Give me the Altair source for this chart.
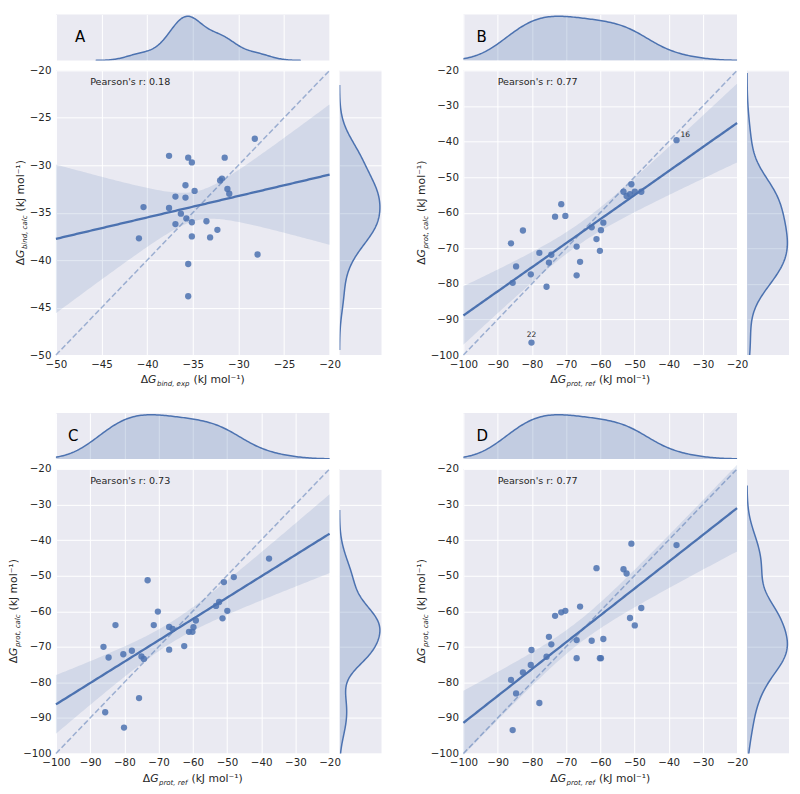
import numpy as np
import pandas as pd
import altair as alt

BLUE = "#4C72B0"
BG = "#EAEAF2"
INK = "#262626"
FONT = "DejaVu Sans"

# ---------------- data ----------------
# Panel A: dG_bind,exp vs dG_bind,calc
a_exp = [-28.2, -37.6, -35.5, -35.1, -31.5, -35.8, -32.0, -31.8, -34.8, -36.9, -35.8,
         -31.2, -31.0, -40.4, -37.6, -36.3, -35.7, -35.1, -36.9, -33.5, -32.3, -40.9,
         -35.1, -33.1, -27.9, -35.5, -35.5]
a_calc = [-27.2, -29.0, -29.2, -29.7, -29.2, -32.1, -31.6, -31.4, -32.7, -33.3, -33.4,
          -32.5, -33.0, -34.4, -34.5, -35.1, -35.6, -36.0, -36.2, -35.9, -36.8, -37.7,
          -37.5, -37.6, -39.4, -40.4, -43.8]

# Panels B, C, D share the reference values
prot_ref = [-86.1, -85.6, -84.6, -82.6, -80.3, -80.1, -77.8, -75.7, -75.0, -74.3, -73.2,
            -71.4, -70.2, -66.9, -66.9, -65.9, -62.5, -61.1, -60.1, -59.8, -59.1, -53.2,
            -52.3, -51.3, -50.9, -49.9, -48.0, -37.7]
b_calc = [-68.6, -79.7, -75.1, -65.0, -77.3, -96.5, -71.3, -80.8, -74.0, -71.8, -61.1,
          -57.6, -60.9, -69.5, -77.6, -73.8, -64.1, -67.4, -70.7, -64.9, -62.8, -54.1,
          -55.3, -54.8, -52.0, -54.1, -54.1, -39.6]
c_calc = [-70.0, -88.4, -73.0, -63.9, -72.1, -92.7, -71.1, -84.4, -72.7, -73.4, -51.3,
          -63.9, -60.1, -64.4, -70.8, -65.0, -69.8, -65.8, -65.8, -64.5, -62.6, -58.5,
          -57.4, -62.0, -51.8, -59.9, -50.4, -45.2]
d_calc = [-79.3, -93.4, -83.1, -77.2, -75.1, -70.9, -85.8, -72.8, -67.2, -69.3, -61.3,
          -60.3, -59.9, -68.1, -73.2, -58.7, -68.3, -47.9, -73.2, -73.2, -67.8, -48.2,
          -49.4, -61.9, -41.0, -64.0, -59.1, -41.4]

# labelled points in panel B
b_note_text = ["16", "22"]
b_note_x = [-37.7, -80.1]
b_note_y = [-39.6, -96.5]

pearson_labels = ["Pearson's r: 0.18", "Pearson's r: 0.77", "Pearson's r: 0.73", "Pearson's r: 0.77"]
letters = ["A", "B", "C", "D"]
ticks_a = [-50, -45, -40, -35, -30, -25, -20]
ticks_p = [-100, -90, -80, -70, -60, -50, -40, -30, -20]
dom_a = [-50, -20]
dom_p = [-100, -20]

# ---------------- layout ----------------
W, H, TH, RW, GAP = 274, 285, 46, 42, 10
SPX, SPY = 62, 38

EM = {"Δ": 0.684, "G": 0.776, " ": 0.318, "(": 0.390, ")": 0.390, "k": 0.579, "J": 0.295,
      "m": 0.974, "o": 0.612, "l": 0.278, "⁻": 0.52, "¹": 0.401, "b": 0.635, "i": 0.278,
      "n": 0.634, "d": 0.635, ",": 0.318, "e": 0.615, "x": 0.592, "p": 0.635, "c": 0.550,
      "a": 0.613, "r": 0.411, "t": 0.392, "f": 0.352}


def tw(s, size):
    return sum(EM.get(ch, 0.6) for ch in s) * size


DUMMY = pd.DataFrame({"d": [0]})
PANEL_VIEW = alt.ViewBackground(fill=BG, strokeWidth=0)


def title_layers(sub, orient, base):
    # (text, size, style, baseline shift, gap after)
    pieces = [("Δ", 10.8, "normal", 0, 0.0), ("G", 10.8, "italic", 0, 0.5),
              (sub, 7.0, "italic", 3, 4.0), ("(kJ mol⁻¹)", 10.8, "normal", 0, 0.0)]
    total = sum(tw(t, s) + g for t, s, _, _, g in pieces)
    layers = []
    pos = W / 2 - total / 2 if orient == "x" else H / 2 + total / 2
    for t, s, st, sh, g in pieces:
        if orient == "x":
            enc = dict(x=alt.value(pos), y=alt.value(base + sh), text=alt.value(t))
            ang = 0
            pos += tw(t, s) + g
        else:
            enc = dict(x=alt.value(base + sh), y=alt.value(pos), text=alt.value(t))
            ang = 270
            pos -= tw(t, s) + g
        layers.append(alt.Chart(DUMMY).mark_text(font=FONT, fontSize=s, fontStyle=st, color=INK,
                                                 align="left", baseline="alphabetic",
                                                 angle=ang).encode(**enc))
    return layers


def kde_bw(v):
    v = np.asarray(v, dtype=float)
    sd = v.std(ddof=1)
    q75, q25 = np.percentile(v, [75, 25])
    a = min(sd, (q75 - q25) / 1.349)
    return 1.059 * a * len(v) ** -0.2


def fit_band(x, y, dom, n=120):
    x = np.asarray(x, dtype=float)
    y = np.asarray(y, dtype=float)
    b, a = np.polyfit(x, y, 1)
    grid = np.linspace(dom[0], dom[1], n)
    fit = a + b * grid
    res = y - (a + b * x)
    s = np.sqrt((res ** 2).sum() / (len(x) - 2))
    sxx = ((x - x.mean()) ** 2).sum()
    half = 2.06 * s * np.sqrt(1 / len(x) + (grid - x.mean()) ** 2 / sxx)
    return pd.DataFrame({"x": grid, "y": fit, "lo": fit - half, "hi": fit + half})


def main_chart(x, y, dom, ticks, rtext, xsub, ysub, ybase, notes=None):
    xs = alt.Scale(domain=dom, nice=False, zero=False)
    ys = alt.Scale(domain=dom, nice=False, zero=False)
    xax = alt.Axis(values=ticks, title=None, labelPadding=4, labelOverlap=False, labelFlush=False)
    yax = alt.Axis(values=ticks, title=None, labelPadding=5, labelOverlap=False, labelFlush=False)
    X = alt.X("x:Q", scale=xs, axis=xax)
    band_df = fit_band(x, y, dom)
    band = alt.Chart(band_df).mark_area(color=BLUE, opacity=0.15).encode(
        x=X, y=alt.Y("lo:Q", scale=ys, axis=yax), y2="hi:Q")
    ident = alt.Chart(pd.DataFrame({"x": dom, "y": dom})).mark_line(
        color=BLUE, opacity=0.5, strokeWidth=1.5, strokeDash=[5.5, 2.6]).encode(
        x=X, y=alt.Y("y:Q", scale=ys, axis=yax))
    reg = alt.Chart(band_df).mark_line(color=BLUE, strokeWidth=2.3).encode(
        x=X, y=alt.Y("y:Q", scale=ys, axis=yax))
    pts = alt.Chart(pd.DataFrame({"x": x, "y": y})).mark_circle(
        size=40, color=BLUE, opacity=0.85).encode(x=X, y=alt.Y("y:Q", scale=ys, axis=yax))
    txt = alt.Chart(DUMMY).mark_text(font=FONT, fontSize=9.6, color=INK, align="left",
                                      baseline="middle").encode(
        x=alt.value(W * 0.125), y=alt.value(12), text=alt.value(rtext))
    layers = [band, ident, reg, pts, txt]
    if notes is not None:
        ndf = pd.DataFrame({"x": notes[1], "y": notes[2], "t": notes[0]})
        layers.append(alt.Chart(ndf.iloc[[0]]).mark_text(
            font=FONT, fontSize=7.5, color=INK, align="left", baseline="middle", dx=4, dy=-5).encode(
            x=X, y=alt.Y("y:Q", scale=ys, axis=yax), text="t:N"))
        layers.append(alt.Chart(ndf.iloc[[1]]).mark_text(
            font=FONT, fontSize=7.5, color=INK, align="center", baseline="middle", dy=-8).encode(
            x=X, y=alt.Y("y:Q", scale=ys, axis=yax), text="t:N"))
    layers += title_layers(xsub, "x", H + 28)
    layers += title_layers(ysub, "y", ybase)
    return alt.layer(*layers).properties(width=W, height=H, view=PANEL_VIEW)


def density_base(v):
    bw = kde_bw(v)
    ext = [float(min(v) - 3 * bw), float(max(v) + 3 * bw)]
    return alt.Chart(pd.DataFrame({"v": v})).transform_density(
        "v", as_=["value", "density"], bandwidth=float(bw), extent=ext, steps=200)


def top_chart(x, dom, ticks, letter, ldx):
    base = density_base(x)
    X = alt.X("value:Q", scale=alt.Scale(domain=dom, nice=False, zero=False),
              axis=alt.Axis(values=ticks, labels=False, title=None, grid=True))
    dscale = alt.Scale(zero=True, nice=False)
    Yd = alt.Y("density:Q", scale=dscale, axis=None)
    area = base.mark_area(color=BLUE, opacity=0.25, clip=True).encode(x=X, y=Yd)
    line = base.mark_line(color=BLUE, strokeWidth=1.5, clip=True).encode(x=X, y=Yd)
    head = base.transform_aggregate(m="max(density)").transform_calculate(
        top="datum.m * 1.04").mark_point(opacity=0).encode(
        x=alt.value(0), y=alt.Y("top:Q", scale=dscale, axis=None))
    lab = alt.Chart(DUMMY).mark_text(font=FONT, fontSize=15, color="black", align="left",
                                      baseline="middle").encode(
        x=alt.value(ldx), y=alt.value(TH / 2), text=alt.value(letter))
    return alt.layer(area, line, head, lab).properties(width=W, height=TH, view=PANEL_VIEW)


def right_chart(y, dom, ticks):
    base = density_base(y)
    Y = alt.Y("value:Q", scale=alt.Scale(domain=dom, nice=False, zero=False),
              axis=alt.Axis(values=ticks, labels=False, title=None, grid=True))
    dscale = alt.Scale(zero=True, nice=False)
    Xd = alt.X("density:Q", scale=dscale, axis=None, stack=None)
    area = base.mark_area(color=BLUE, opacity=0.25, clip=True, orient="horizontal").encode(y=Y, x=Xd)
    line = base.mark_line(color=BLUE, strokeWidth=1.5, clip=True).encode(
        y=Y, x=Xd, order=alt.Order("value:Q"))
    head = base.transform_aggregate(m="max(density)").transform_calculate(
        top="datum.m * 1.04").mark_point(opacity=0).encode(
        y=alt.value(0), x=alt.X("top:Q", scale=dscale, axis=None))
    return alt.layer(area, line, head).properties(width=RW, height=H, view=PANEL_VIEW)


def blank(w, h):
    return alt.Chart(DUMMY).mark_text(opacity=0).encode(
        x=alt.value(0), y=alt.value(0), text=alt.value("")).properties(
        width=w, height=h, view=alt.ViewBackground(fillOpacity=0, strokeOpacity=0))


tA = top_chart(a_exp, dom_a, ticks_a, letters[0], 19)
mA = main_chart(a_exp, a_calc, dom_a, ticks_a, pearson_labels[0], "bind, exp", "bind, calc", -31.5)
rA = right_chart(a_calc, dom_a, ticks_a)

tB = top_chart(prot_ref, dom_p, ticks_p, letters[1], 13)
mB = main_chart(prot_ref, b_calc, dom_p, ticks_p, pearson_labels[1], "prot, ref", "prot, calc", -38.5,
                notes=(b_note_text, b_note_x, b_note_y))
rB = right_chart(b_calc, dom_p, ticks_p)

tC = top_chart(prot_ref, dom_p, ticks_p, letters[2], 12)
mC = main_chart(prot_ref, c_calc, dom_p, ticks_p, pearson_labels[2], "prot, ref", "prot, calc", -38.5)
rC = right_chart(c_calc, dom_p, ticks_p)

tD = top_chart(prot_ref, dom_p, ticks_p, letters[3], 13)
mD = main_chart(prot_ref, d_calc, dom_p, ticks_p, pearson_labels[3], "prot, ref", "prot, calc", -38.5)
rD = right_chart(d_calc, dom_p, ticks_p)

cells = [
    tA, blank(RW, TH), blank(SPX, TH), tB, blank(RW, TH),
    mA, rA, blank(SPX, H), mB, rB,
    blank(W, SPY), blank(RW, SPY), blank(SPX, SPY), blank(W, SPY), blank(RW, SPY),
    tC, blank(RW, TH), blank(SPX, TH), tD, blank(RW, TH),
    mC, rC, blank(SPX, H), mD, rD,
]

chart = alt.concat(*cells, columns=5, spacing=GAP, bounds="flush").properties(
    padding=0).configure_view(strokeWidth=0).configure_axis(
    gridColor="white", gridWidth=1, domain=False, ticks=False,
    labelFont=FONT, labelFontSize=10.3, labelColor=INK)

chart.save("out.html", embed_options={"renderer": "svg", "actions": False})
